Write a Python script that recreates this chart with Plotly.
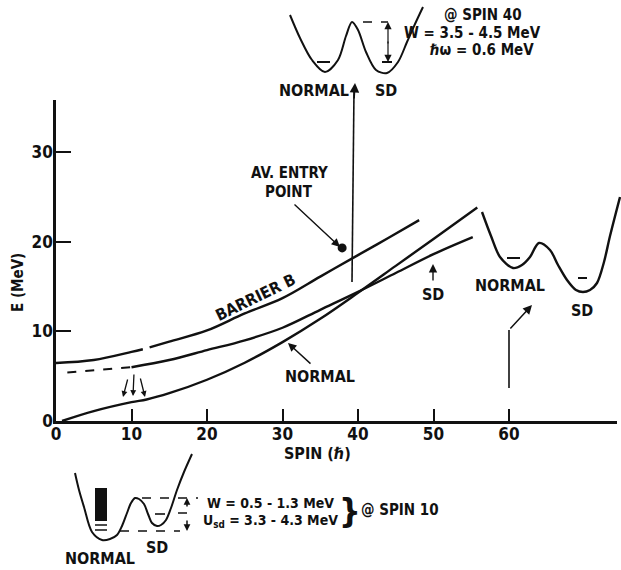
import plotly.graph_objects as go

W, H = 621, 570
FONT = "Liberation Sans Narrow, DejaVu Sans Condensed, Arial Narrow, Liberation Sans, Arial"
INK = "#111111"

# ---------------- data (spin in hbar, E in MeV) ----------------
spin_barrier = [0, 5, 10, 11.5, None, 12.4, 15, 20, 25, 30, 35, 40, 44, 48.1]
E_barrier = [6.47, 6.8, 7.7, 8.0, None, 8.2, 8.85, 10.1, 12.0, 13.7, 16.1, 18.5, 20.4, 22.4]

spin_sd = [10, 15, 20, 25, 30, 35, 40, 45, 50, 55.2]
E_sd = [6.0, 6.8, 7.9, 9.0, 10.4, 12.4, 14.4, 16.5, 18.6, 20.5]

spin_sd_dashed = [1.5, 10]
E_sd_dashed = [5.4, 6.0]

spin_normal = [0.8, 5, 10, 12, 15, 20, 25, 30, 35, 40, 45, 50, 55.8]
E_normal = [0.0, 1.1, 2.1, 2.4, 3.1, 4.6, 6.5, 8.8, 11.4, 14.3, 17.3, 20.3, 23.8]

entry_spin = [37.9]
entry_E = [19.3]

x_ticks = [0, 10, 20, 30, 40, 50, 60]
x_ticklabels = ["0", "10", "20", "30", "40", "50", "60"]
y_ticks = [0, 10, 20, 30]
y_ticklabels = ["0", "10", "20", "30"]

# ---------------- decorative sketches (page pixel units) ----------------
top_well_x = [290, 300, 312, 325, 338, 346, 352, 358, 366, 376, 387, 398, 407, 415, 423]
top_well_y = [15, 38, 60, 72, 60, 36, 22, 30, 52, 70, 73, 62, 42, 24, 7]
top_levels = [([317, 330], [62, 62]), ([382, 392], [62, 62])]
top_dash = ([363, 388], [22, 22])

right_well_x = [482, 491, 500, 513, 522, 530, 539, 550, 558, 567, 576, 583, 590, 597, 604, 610, 620]
right_well_y = [212, 236, 257, 268, 265, 257, 243, 250, 265, 280, 290, 292, 290, 283, 262, 236, 197]
right_levels = [([507, 520], [258, 258]), ([578, 587], [278, 278])]

bot_well_x = [75, 79, 84, 92, 102, 110, 117, 122, 127, 131, 135, 139, 144, 148, 152, 157, 161, 166, 171, 177, 184, 192]
bot_well_y = [473, 490, 507, 532, 540, 539, 535, 526, 513, 503, 498, 499, 504, 514, 523, 526, 525, 520, 508, 490, 472, 454]

fig = go.Figure()


def curve(x, y, dash="solid", width=2.4, xa="x", ya="y", smooth=1.0):
    fig.add_trace(go.Scatter(
        x=x, y=y, mode="lines", xaxis=xa, yaxis=ya,
        line=dict(color=INK, width=width, dash=dash, shape="spline", smoothing=smooth),
        connectgaps=False, hoverinfo="skip", showlegend=False))


def seg(x, y, dash="solid", width=1.6):
    fig.add_trace(go.Scatter(
        x=x, y=y, mode="lines", xaxis="x2", yaxis="y2",
        line=dict(color=INK, width=width, dash=dash),
        hoverinfo="skip", showlegend=False))


def text(t, x, y, size=16, angle=0, xanchor="center", bold=True):
    fig.add_annotation(x=x, y=y, xref="x2", yref="y2",
                       text=("<b>%s</b>" % t) if bold else t, showarrow=False,
                       textangle=angle, xanchor=xanchor, yanchor="middle",
                       font=dict(family=FONT, size=size, color=INK))


def arrow(x_tail, y_tail, x_head, y_head, width=1.5, size=1.0, head=2):
    fig.add_annotation(x=x_head, y=y_head, ax=x_tail, ay=y_tail,
                       xref="x2", yref="y2", axref="x2", ayref="y2",
                       text="", showarrow=True, arrowhead=head, arrowsize=size,
                       arrowwidth=width, arrowcolor=INK)


# main curves
curve(spin_barrier, E_barrier)
curve(spin_sd, E_sd)
curve(spin_sd_dashed, E_sd_dashed, dash="dash", width=2.0)
curve(spin_normal, E_normal)
fig.add_trace(go.Scatter(x=entry_spin, y=entry_E, mode="markers",
                         marker=dict(color=INK, size=9),
                         hoverinfo="skip", showlegend=False))

# wells
curve(top_well_x, top_well_y, width=2.0, xa="x2", ya="y2", smooth=0.9)
for lx, ly in top_levels:
    seg(lx, ly, width=2.0)
seg(*top_dash, dash="dash", width=1.5)
arrow(388, 45, 388, 22, width=1.2, size=1.2)
arrow(388, 40, 388, 62, width=1.2, size=1.2)

curve(right_well_x, right_well_y, width=2.4, xa="x2", ya="y2", smooth=0.9)
for lx, ly in right_levels:
    seg(lx, ly, width=2.0)

curve(bot_well_x, bot_well_y, width=2.0, xa="x2", ya="y2", smooth=0.9)
fig.add_shape(type="rect", xref="x2", yref="y2", x0=95, x1=107, y0=488, y1=521,
              fillcolor=INK, line=dict(width=0))
seg([95, 107], [525, 525], width=1.5)
seg([95, 107], [530, 530], width=1.5)
seg([142, 198], [498, 498], dash="dash", width=1.5)
seg([120, 180], [531, 531], dash="dash", width=1.5)
seg([178, 194], [513, 513], dash="dash", width=1.5)
seg([155, 165], [514, 514], width=1.6)
arrow(187, 508, 187, 498, width=1.5, size=0.9)
arrow(187, 519, 187, 531, width=1.5, size=0.9)

# vertical arrow from spin ~39 up to the top inset
seg([352, 354], [282, 90], width=1.6)
arrow(354, 100, 355, 83, width=1.6, size=1.2)

# entry point label
text("AV. ENTRY", 289, 173, size=15)
text("POINT", 289, 192, size=15)
arrow(293, 203, 340, 247, width=1.4, size=1.2)

# barrier label
text("BARRIER B", 255, 297, size=16, angle=-26)

# NORMAL / SD labels in main plot
text("NORMAL", 320, 376, size=16)
arrow(312, 365, 288, 343, width=1.4, size=1.2)
text("SD", 433, 294, size=16)
arrow(433, 282, 433, 264, width=1.4, size=1.2)

# transitions near spin 10
arrow(128, 378, 123, 397, width=1.3, size=0.9)
arrow(134, 373, 133, 396, width=1.3, size=0.9)
arrow(140, 377, 145, 397, width=1.3, size=0.9)

# right inset labels and arrow
text("NORMAL", 510, 285, size=16)
text("SD", 582, 310, size=16)
seg([509, 509], [388, 330], width=1.6)
arrow(509, 330, 532, 305, width=1.5, size=1.2)

# top inset labels
text("NORMAL", 314, 90, size=16)
text("SD", 386, 90, size=16)
text("@ SPIN 40", 483, 15, size=15)
text("W = 3.5 - 4.5 MeV", 472, 33, size=15)
text("ℏω = 0.6 MeV", 482, 50, size=15)

# bottom inset labels
text("W = 0.5 - 1.3 MeV", 270, 503, size=14)
text("U<sub>sd</sub> = 3.3 - 4.3 MeV", 270, 521, size=14)
text("}", 350, 511, size=34)
text("@ SPIN 10", 400, 510, size=15)
text("SD", 157, 547, size=16)
text("NORMAL", 100, 558, size=16)

# axis titles
text("E (MeV)", 18, 283, size=15, angle=-90)
text("SPIN (ℏ)", 317, 453, size=16)

x_end = (617 - 56) / 7.55
y_top = (421 - 100) / 8.967

fig.update_layout(
    template="none",
    width=W, height=H, autosize=False,
    margin=dict(l=0, r=0, t=0, b=0, pad=0, autoexpand=False),
    paper_bgcolor="white", plot_bgcolor="rgba(0,0,0,0)",
    showlegend=False,
    font=dict(family=FONT, size=16, color=INK),
    xaxis=dict(domain=[56 / W, 617 / W], range=[0, x_end], anchor="y", automargin=False,
               showline=True, linecolor=INK, linewidth=2.5,
               ticks="inside", ticklen=12, tickwidth=2, tickcolor=INK,
               tickvals=x_ticks, ticktext=["<b>%s</b>" % t for t in x_ticklabels],
               tickfont=dict(family=FONT, size=17, color=INK),
               ticklabelstandoff=-4,
               showgrid=False, zeroline=False, fixedrange=True),
    yaxis=dict(domain=[(H - 421) / H, (H - 100) / H], range=[0, y_top], anchor="x", automargin=False,
               showline=True, linecolor=INK, linewidth=2.5,
               ticks="inside", ticklen=15, tickwidth=2, tickcolor=INK,
               tickvals=y_ticks, ticktext=["<b>%s</b>" % t for t in y_ticklabels],
               tickfont=dict(family=FONT, size=17, color=INK),
               ticklabelstandoff=-3,
               showgrid=False, zeroline=False, fixedrange=True),
    xaxis2=dict(domain=[0, 1], range=[0, W], anchor="y2", visible=False, fixedrange=True, automargin=False),
    yaxis2=dict(domain=[0, 1], range=[H, 0], anchor="x2", visible=False, fixedrange=True, automargin=False),
)

fig.write_html("out.html")
